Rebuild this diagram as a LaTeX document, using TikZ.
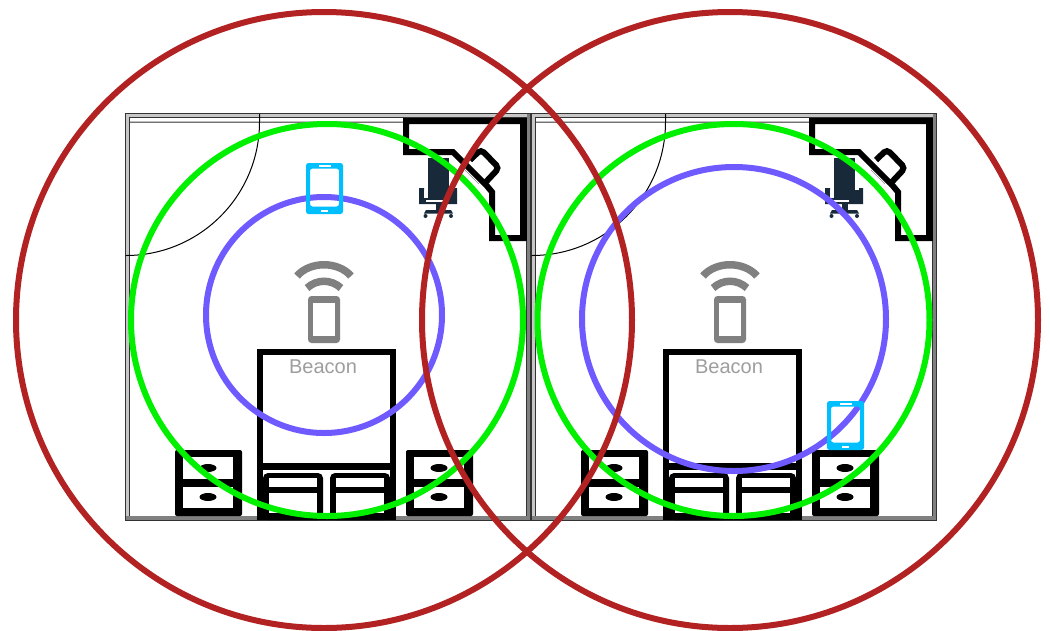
\documentclass[tikz,border=0pt]{standalone}
\usepackage{fontspec}
\setmainfont{Liberation Sans}
\definecolor{ringred}{HTML}{B22222}
\definecolor{ringgreen}{HTML}{00F000}
\definecolor{ringpurple}{HTML}{6E5AFF}
\definecolor{phoneblue}{HTML}{00BFFF}
\definecolor{chairnavy}{HTML}{182A3A}
\definecolor{beacongray}{HTML}{808080}
\tikzset{
  wallline/.style={draw=black!80,line width=0.9pt},
  wallband/.style={fill=black!50,draw=none},
  ring/.style={draw=#1,line width=6pt},
  wifi/.style={draw=beacongray,line width=7.5pt},
  beaconlabel/.style={text=black!38,font=\fontsize{20}{22}\selectfont,inner sep=0pt},
}
\newcommand{\mobile}[4]{% left top right bottom
  \fill[phoneblue,rounded corners=2.5pt,even odd rule] (#1,#2) rectangle (#3,#4)
    (#1+4,#2+5.5) rectangle (#3-4,#4-7.5);
  \fill[white] ({(#1+#3)/2-6},#2+1.7) rectangle ({(#1+#3)/2+6},#2+3.5);
  \fill[white] ({(#1+#3)/2-3.5},#4-4.5) rectangle ({(#1+#3)/2+3.5},#4-2.5);
}
\newcommand{\drawers}[1]{%
  \begin{scope}[xshift=#1pt]
    \fill[black,rounded corners=2pt] (175,450) rectangle (242,516);
    \fill[white] (183,457) rectangle (233,479);
    \fill[white] (183,487) rectangle (233,508);
    \fill[black] (208,468) ellipse [x radius=8.5,y radius=4];
    \fill[black] (208,497) ellipse [x radius=8.5,y radius=4];
  \end{scope}
}
\begin{document}
\begin{tikzpicture}[x=1pt,y=-1pt]
\useasboundingbox (0,0) rectangle (1050,630);
\fill[white] (0,0) rectangle (1050,630);
\foreach \dx in {0,406}{
\begin{scope}[xshift=\dx pt]
  % walls
  \path[fill=black!22] (126,113) rectangle (530,117);
  \path[fill=black!22] (126,113) rectangle (129.5,520);
  \path[wallband] (126,515.5) rectangle (530,520);
  \path[wallband] (526.5,113) rectangle (530,520);
  \path[fill=black!25] (129.5,117) rectangle (526.5,122);
  \path[fill=white] (130,118) rectangle (526,121);
  \draw[wallline] (125.5,113) rectangle (530.5,520);
  \draw[wallline] (129.5,117) -- (526.5,117);
  \draw[draw=black!55,line width=0.9pt] (129.5,122) -- (526.5,122);
  \draw[wallline] (129.5,117) -- (129.5,516);
  \draw[wallline] (526.5,117) -- (526.5,516);
  % door
  \draw[black,line width=1pt] (259.5,114) -- (259.5,122) arc [start angle=0,end angle=90,radius=133.5] -- (126,256);
  % desk
  \draw[black,line width=6pt,line join=miter] (406,121) -- (523,121) -- (523,238) -- (492,238) -- (492,192) -- (487,186) -- (453,152) -- (406,152) -- cycle;
  \fill[black] (520,118) rectangle (527,241);
  \draw[black,line width=6pt,rounded corners=4pt] (470,160) -- (481,149.5) -- (499,168) -- (484,184);
  \draw[black!45,line width=0.5pt] (465,170) -- (479,184);
  % chair
  \fill[chairnavy] (428,158) rectangle (449,190);
  \fill[chairnavy,even odd rule] (419,188) -- (424,188) -- (424,190) -- (453,190) -- (453,188) -- (457,188) -- (457,204) -- (419,204) -- cycle;
  \fill[chairnavy] (424,190) rectangle (453,199);
  \fill[white] (424,190) rectangle (428,198);
  \fill[white] (426,199.5) rectangle (443,201.5);
  \fill[chairnavy] (435.5,204) rectangle (441.5,210);
  \fill[chairnavy] (426,210) -- (451,210) -- (453,213.5) -- (424,213.5) -- cycle;
  \fill[chairnavy] (425.5,216) circle [radius=2];
  \fill[chairnavy] (451,216) circle [radius=2];
  % bed
  \draw[black,line width=6pt,line join=miter] (260,352) rectangle (393,517);
  \fill[black] (257,463) rectangle (396,470);
  \foreach \px in {263,330}{
    \fill[black,rounded corners=5pt] (\px,473) rectangle (\px+60,520);
    \fill[white] (\px+6,478) rectangle (\px+54,487);
    \fill[white] (\px+6,493) rectangle (\px+54,513);
  }
  \fill[black] (257,514) rectangle (396,520);
  % bedside drawers
  \drawers{0}
  \drawers{231}
  % beacon icon
  \fill[beacongray,rounded corners=3.5pt] (308,296) rectangle (340,343);
  \fill[white] (313,303) rectangle (335,336);
  \draw[wifi] (297,276) .. controls (310,261) and (338,261) .. (351,276);
  \draw[wifi] (307,288) .. controls (317,279) and (331,279) .. (341,288);
  \node[beaconlabel] (beacon\dx) at (323,367) {Beacon};
\end{scope}
}
% rings
\draw[ring=ringpurple] (324,315) circle [radius=118];
\draw[ring=ringpurple] (734,319) circle [radius=152];
% blue phones
\mobile{306}{163}{343}{214}
\mobile{827}{401}{864}{450}
\draw[ring=ringgreen] (327,320) circle [radius=196];
\draw[ring=ringgreen] (733.5,320) circle [radius=196];
\draw[ring=ringred] (324,320) circle [radius=308];
\draw[ring=ringred] (730,320) circle [radius=308];
\end{tikzpicture}
\end{document}
